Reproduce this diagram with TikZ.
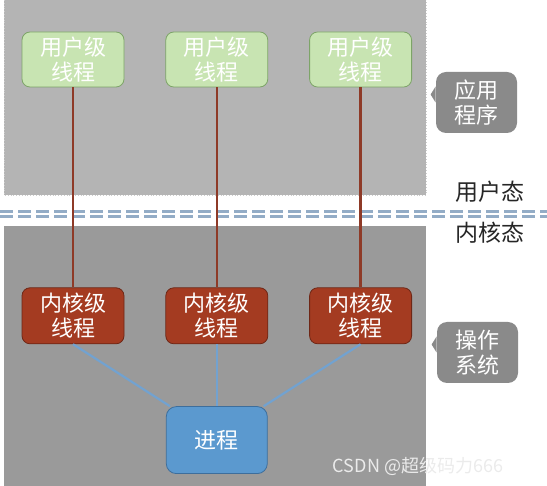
\documentclass[tikz,border=0pt]{standalone}
\usepackage{fontspec}
\newfontfamily\cjk{Noto Sans CJK SC}
\usepackage{xcolor}
\usetikzlibrary{positioning}

\definecolor{userarea}{HTML}{B4B4B4}
\definecolor{kernarea}{HTML}{9A9A9A}
\definecolor{ugreen}{HTML}{C8E4B2}
\definecolor{ugreenline}{HTML}{7DA468}
\definecolor{kred}{HTML}{A43B21}
\definecolor{kredline}{HTML}{6E2716}
\definecolor{pblue}{HTML}{5B99CF}
\definecolor{pblueline}{HTML}{3D6E9C}
\definecolor{tagfill}{HTML}{8A8A8A}
\definecolor{redlink}{HTML}{8E3A27}
\definecolor{bluelink}{HTML}{72A2D0}
\definecolor{sepline}{HTML}{93ACC6}

\begin{document}
\begin{tikzpicture}[
    x=0.5pt, y=-0.5pt,
    node distance=20.5pt,
    every node/.style={font=\cjk\fontsize{11}{12.5}\selectfont, align=center},
    uthread/.style={draw=ugreenline, fill=ugreen, text=white, rounded corners=4pt, minimum width=51pt, minimum height=27.5pt, inner sep=0pt},
    kthread/.style={draw=kredline, fill=kred, text=white, rounded corners=4pt, minimum width=51pt, minimum height=28pt, inner sep=0pt},
    procbox/.style={draw=pblueline, fill=pblue, text=white, rounded corners=5pt, minimum width=50.5pt, minimum height=33.5pt, inner sep=0pt},
    tagbox/.style={fill=tagfill, text=white, rounded corners=5pt, minimum width=40.5pt, minimum height=30.5pt, inner sep=0pt},
    modetext/.style={text=black!85, font=\cjk\fontsize{11.5}{13}\selectfont},
    redline/.style={redlink, line width=1.3pt},
    blueline/.style={bluelink, line width=1.1pt}
]
\useasboundingbox (0,0) rectangle (547,486);

% user space and kernel space
\fill[userarea] (4,0) rectangle (426,195);
\draw[white!80!black, densely dotted, line width=0.4pt] (4,0) -- (4,195) -- (426,195) -- (426,0);
\fill[kernarea] (4,226) rectangle (426,486);
\draw[sepline, dashed, dash pattern=on 6.5pt off 2.5pt, line width=1.1pt] (0,211.5) -- (547,211.5);
\draw[sepline, dashed, dash pattern=on 6.5pt off 2.5pt, line width=1.1pt] (0,216.5) -- (547,216.5);

\node[uthread] (u1) at (73,59.5) {用户级\\线程};
\node[uthread] (u2) [right=of u1] {用户级\\线程};
\node[uthread] (u3) [right=of u2] {用户级\\线程};

\node[kthread] (k1) [below=100pt of u1] {内核级\\线程};
\node[kthread] (k2) [below=100pt of u2] {内核级\\线程};
\node[kthread] (k3) [below=100pt of u3] {内核级\\线程};

\node[procbox] (proc) [below=31pt of k2] {进程};

\draw[redline] (u1) -- (k1);
\draw[redline] (u2) -- (k2);
\draw[redline] (u3) -- (k3);

\draw[blueline] (k1.south) -- ([xshift=2pt]proc.north west);
\draw[blueline] (k2) -- (proc);
\draw[blueline] (k3.south) -- ([xshift=-2pt]proc.north east);

% side tags
\node[tagbox] (app) at (476.5,102.5) {应用\\程序};
\fill[tagfill] ([yshift=8pt]app.west) -- ++(-2.5pt,-4pt) -- ++(2.5pt,-4pt) -- cycle;
\node[tagbox] (os) at (477.5,352.5) {操作\\系统};
\fill[tagfill] ([yshift=8pt]os.west) -- ++(-2.5pt,-4pt) -- ++(2.5pt,-4pt) -- cycle;

\node[modetext] (umode) at (490,192) {用户态};
\node[modetext] (kmode) at (490,233) {内核态};

\node[text=white!92!black, font=\fontsize{9}{10}\selectfont\cjk] (mark) at (418,466) {CSDN @超级码力666};
\end{tikzpicture}
\end{document}
